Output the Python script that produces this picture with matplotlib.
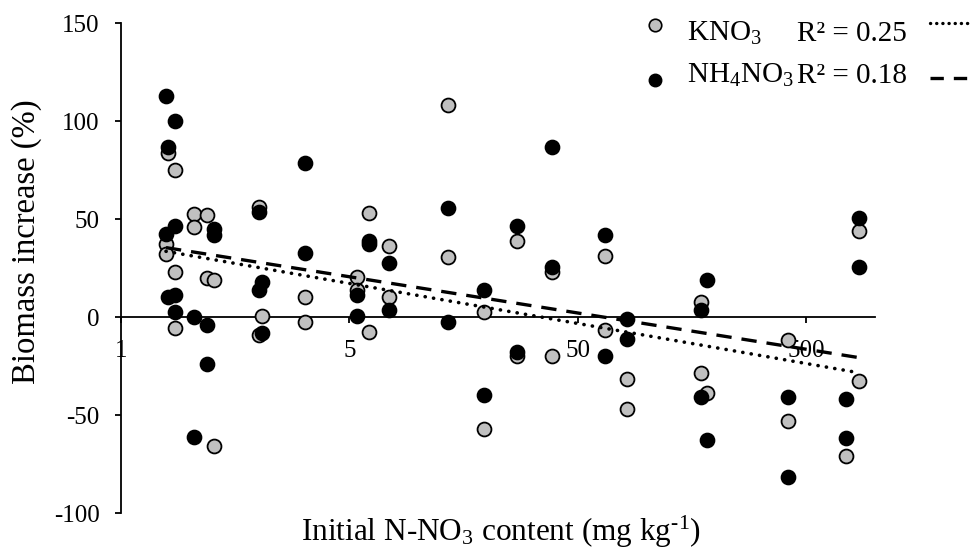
import numpy as np
import matplotlib
matplotlib.use("Agg")
import matplotlib.pyplot as plt
from matplotlib.lines import Line2D

plt.rcParams['font.family'] = ['Liberation Serif', 'DejaVu Serif']
plt.rcParams['mathtext.fontset'] = 'custom'
plt.rcParams['mathtext.rm'] = 'Liberation Serif'
plt.rcParams['mathtext.it'] = 'Liberation Serif:italic'
plt.rcParams['mathtext.default'] = 'rm'

# ---- data ----
kno3_x = [0.80, 0.787, 0.787, 0.861, 0.861, 0.861, 1.04, 1.04, 1.19, 1.19, 1.28, 1.28,
          2.01, 2.01, 2.07, 3.19, 3.19, 6.07, 5.38, 5.38, 6.07, 7.43, 7.43,
          13.45, 13.45, 19.5, 19.5, 27.2, 27.2, 38.7, 38.7, 66, 66, 82.4, 82.4,
          173.5, 173.5, 184, 417, 417, 851, 851, 747]
kno3_y = [83.7, 37, 32, 75, 23, -5.6, 52.5, 46, 52, 20, 19, -66,
          56, -9, 0.5, 10, -2.5, 53, 20.5, 14, -7.5, 36, 10,
          108, 30.6, 2.5, -57, 38.8, -20, 23, -20, 31, -6.6, -31.6, -47,
          7.6, -28.5, -39, -11.7, -53, 44, -32.6, -71]

nh4_x = [0.787, 0.80, 0.787, 0.80, 0.861, 0.861, 0.861, 0.861, 1.04, 1.28, 1.28, 1.19,
         1.19, 1.04, 2.01, 2.07, 2.01, 2.07, 3.19, 3.19, 6.07, 6.07, 5.38, 5.38,
         7.43, 7.43, 13.45, 13.45, 19.5, 19.5, 27.2, 27.2, 38.7, 38.7, 66, 66,
         82.4, 82.4, 184, 173.5, 173.5, 184, 417, 417, 747, 747, 851, 851]
nh4_y = [113, 86.7, 42.3, 10, 100, 46.4, 11, 2.5, 0, 45, 42, -4,
         -24, -61, 53.6, 18, 14, -8, 78.6, 32.7, 39, 37, 11, 0.5,
         27.6, 3.6, 55.6, -2.5, 14, -40, 46.4, -18, 86.7, 25.5, 41.8, -20,
         -1, -11, 19, 3.6, -41, -63, -40.6, -81.6, -42, -61.7, 50.5, 25.5]

x_ticks = [0.5, 5, 50, 500]
x_tick_labels = ['1', '5', '50', '500']
y_ticks = [-100, -50, 0, 50, 100, 150]
r2_labels = ['R² = 0.25', 'R² = 0.18']

W, H = 975, 551
fig = plt.figure(figsize=(W / 100, H / 100), dpi=100)
ax = fig.add_axes([121 / W, 1 - 513 / H, (875 - 121) / W, (513 - 23) / H])

gray = '#c0c0c0'
ax.plot(kno3_x, kno3_y, 'o', ms=10, mfc=gray, mec='black', mew=1.3, ls='none', zorder=3)
ax.plot(nh4_x, nh4_y, 'o', ms=10, mfc='black', mec='black', mew=1.3, ls='none', zorder=4)

# logarithmic trendlines fitted from the data
def trend(xs, ys):
    xs = np.asarray(xs, float); ys = np.asarray(ys, float)
    a, b = np.polyfit(np.log(xs), ys, 1)
    xx = np.geomspace(xs.min(), xs.max(), 200)
    return xx, a * np.log(xx) + b

tx, ty = trend(kno3_x, kno3_y)
ax.plot(tx, ty, color='black', lw=2.6, ls=(0, (0.05, 2.3)), dash_capstyle='round', zorder=5)
tx, ty = trend(nh4_x, nh4_y)
ax.plot(tx, ty, color='black', lw=2.4, ls=(0, (4.6, 3.0)), zorder=5)

ax.set_xscale('log')
ax.set_xlim(0.5, 1000)
ax.set_ylim(-100, 150)
ax.xaxis.set_major_locator(matplotlib.ticker.FixedLocator(x_ticks))
ax.xaxis.set_minor_locator(matplotlib.ticker.NullLocator())
ax.set_xticklabels(x_tick_labels)
ax.set_yticks(y_ticks)
ax.set_yticklabels([str(v) for v in y_ticks])

for s in ['top', 'right']:
    ax.spines[s].set_visible(False)
ax.spines['bottom'].set_position(('data', 0))
ax.spines['bottom'].set_linewidth(1.3)
ax.spines['left'].set_linewidth(1.3)
ax.tick_params(axis='y', direction='out', length=4.5, width=1.3, pad=11, labelsize=18)
ax.tick_params(axis='x', direction='out', length=4.5, width=1.3, pad=12, labelsize=18)

# axis titles
fig.text(27 / W, 1 - 242 / H, 'Biomass increase (%)', rotation=90, ha='center', va='center', fontsize=23.5)
fig.text(501 / W, 1 - 541 / H, 'Initial N-NO$_3$ content (mg kg$^{\u2010 1}$)', ha='center', va='baseline', fontsize=22.5)

# legend
def fx(px): return px / W
def fy(py): return 1 - py / H
fig.add_artist(Line2D([fx(655)], [fy(25)], marker='o', ms=9, mfc=gray, mec='black', mew=1.2, ls='none'))
fig.add_artist(Line2D([fx(655)], [fy(80)], marker='o', ms=9, mfc='black', mec='black', ls='none'))
fig.text(fx(687), fy(41), 'KNO$_3$', fontsize=21, va='baseline')
fig.text(fx(687), fy(83), 'NH$_4$NO$_3$', fontsize=21, va='baseline')
fig.text(fx(797), fy(41), r2_labels[0], fontsize=21, va='baseline')
fig.text(fx(797), fy(83), r2_labels[1], fontsize=21, va='baseline')
fig.add_artist(Line2D([fx(930), fx(970)], [fy(23), fy(23)], color='black', lw=2.4,
                      ls=(0, (0.05, 1.8)), dash_capstyle='round'))
fig.add_artist(Line2D([fx(930), fx(970)], [fy(78), fy(78)], color='black', lw=2.4,
                      ls=(0, (4.0, 3.0))))

fig.savefig('out.png', dpi=100)
